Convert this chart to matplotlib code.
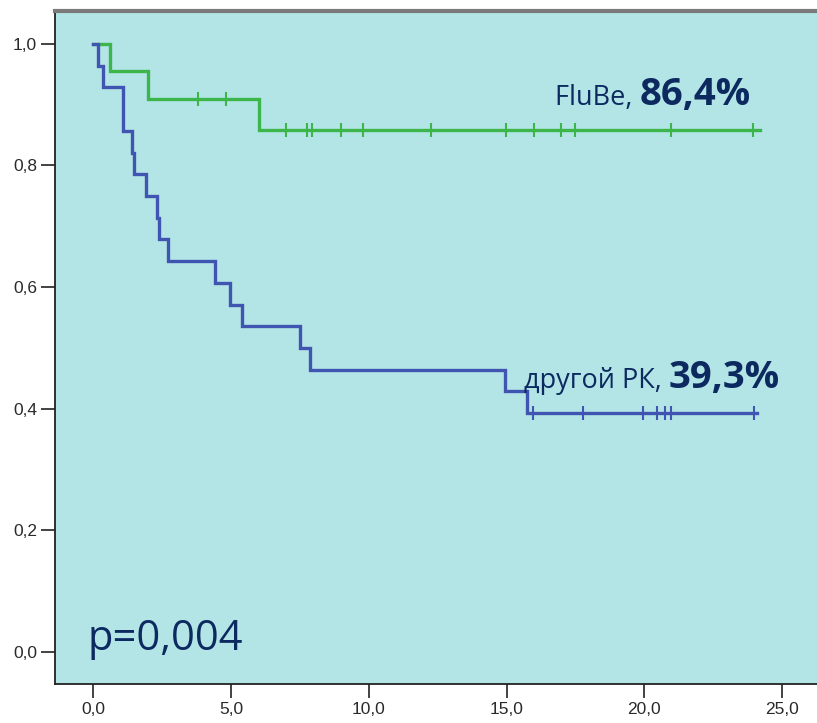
import matplotlib
matplotlib.use("Agg")
import matplotlib.pyplot as plt
from matplotlib.ticker import FixedLocator

# --- Data ---
# FluBe group (green)
flube_times = [0.0, 0.62, 2.0, 6.0, 24.2]
flube_surv = [1.0, 0.955, 0.909, 0.859, 0.859]
flube_cens_t = [3.8, 4.8, 7.0, 7.77, 7.95, 8.98, 9.79, 12.26, 14.98, 15.98, 16.98, 17.48, 20.96, 23.96]
flube_cens_s = [0.909, 0.909] + [0.859] * 12

# Other group (blue)
other_times = [0.0, 0.17, 0.35, 1.08, 1.40, 1.47, 1.92, 2.31, 2.39, 2.71, 4.40, 4.97, 5.39,
               7.51, 7.87, 14.95, 15.74, 24.1]
other_surv = [1.0, 0.964, 0.929, 0.857, 0.821, 0.786, 0.750, 0.714, 0.679, 0.643, 0.607, 0.571,
              0.536, 0.500, 0.464, 0.429, 0.393, 0.393]
other_cens_t = [15.95, 17.77, 19.97, 20.45, 20.75, 20.96, 23.98]
other_cens_s = [0.393] * 7

x_ticks = [0, 5, 10, 15, 20, 25]
x_labels = ["0,0", "5,0", "10,0", "15,0", "20,0", "25,0"]
y_ticks = [0.0, 0.2, 0.4, 0.6, 0.8, 1.0]
y_labels = ["0,0", "0,2", "0,4", "0,6", "0,8", "1,0"]

label_flube = ("FluBe, ", "86,4%")
label_other = ("другой РК, ", "39,3%")
p_text = "p=0,004"

GREEN = "#3cb64b"
BLUE = "#4054b2"
BG = "#b3e5e6"
NAVY = "#0c2a60"

W, H = 817, 723
fig = plt.figure(figsize=(W / 100, H / 100), dpi=100)
fig.patch.set_facecolor("white")
ax = fig.add_axes([55 / W, 39 / H, (W - 55) / W + 0.02, (684 - 11) / H])
ax.set_facecolor(BG)

ax.set_xlim(-1.39, 26.27 + 0.02 * W / 27.55)
ax.set_ylim(-0.0526, 1.054)

ax.step(flube_times, flube_surv, where="post", color=GREEN, lw=2.4, solid_joinstyle="miter", zorder=3)
ax.step(other_times, other_surv, where="post", color=BLUE, lw=2.4, solid_joinstyle="miter", zorder=3)
ax.plot(flube_cens_t, flube_cens_s, ls="none", marker="|", ms=10, mew=1.5, color=GREEN, zorder=4)
ax.plot(other_cens_t, other_cens_s, ls="none", marker="|", ms=10, mew=1.5, color=BLUE, zorder=4)

ax.xaxis.set_major_locator(FixedLocator(x_ticks))
ax.set_xticklabels(x_labels)
ax.yaxis.set_major_locator(FixedLocator(y_ticks))
ax.set_yticklabels(y_labels)
ax.tick_params(axis="both", direction="out", length=10, width=1.2, color="#222222",
               labelsize=12.5, labelcolor="#2a2a2a", pad=3)
for lab in ax.get_xticklabels() + ax.get_yticklabels():
    lab.set_family("Liberation Sans Narrow") if False else lab.set_family("Liberation Sans")

ax.spines["right"].set_visible(False)
ax.spines["top"].set_color("#7a7a7a")
ax.spines["top"].set_linewidth(3)
ax.spines["left"].set_color("#222222")
ax.spines["bottom"].set_color("#222222")
ax.spines["left"].set_linewidth(1.3)
ax.spines["bottom"].set_linewidth(1.3)

fam = ["Open Sans", "DejaVu Sans"]

def two_part(x, y, a, b, size_a, size_b):
    t1 = ax.text(x, y, a, fontsize=size_a, color=NAVY, family=fam, ha="left", va="baseline", zorder=5)
    fig.canvas.draw()
    bb = t1.get_window_extent()
    inv = ax.transData.inverted()
    x2 = inv.transform((bb.x1, 0))[0]
    ax.text(x2, y, b, fontsize=size_b, color=NAVY, family=fam, fontweight="bold",
            ha="left", va="baseline", zorder=5)

two_part(16.76, 0.899, label_flube[0], label_flube[1], 19.5, 27.5)
two_part(15.63, 0.434, label_other[0], label_other[1], 19.5, 27.5)

ax.text(-0.2, 0.003, p_text, fontsize=30, color=NAVY, family=fam, ha="left", va="baseline", zorder=5)

fig.savefig("out.png", dpi=100)
